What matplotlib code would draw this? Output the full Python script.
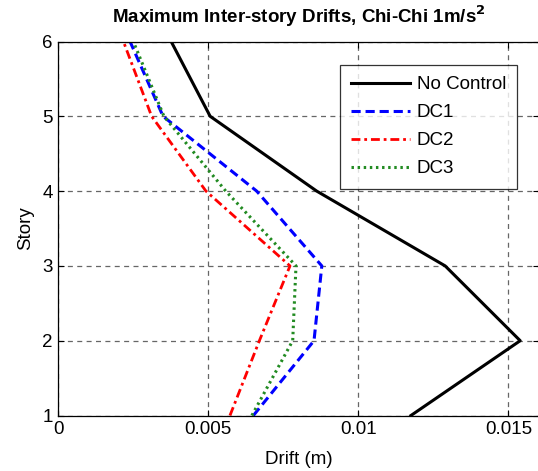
import matplotlib
matplotlib.use("Agg")
import matplotlib.pyplot as plt

stories = [1, 2, 3, 4, 5, 6]
no_control = [0.01175, 0.01539, 0.01289, 0.00861, 0.00506, 0.00376]
dc1 = [0.00650, 0.00852, 0.00878, 0.00661, 0.00349, 0.00239]
dc2 = [0.00572, 0.00670, 0.00772, 0.00492, 0.00311, 0.00217]
dc3 = [0.00645, 0.00781, 0.00792, 0.00558, 0.00352, 0.00250]
xticks = [0, 0.005, 0.01, 0.015]
xticklabels = ["0", "0.005", "0.01", "0.015"]

plt.rcParams['font.family'] = ['Liberation Sans', 'DejaVu Sans']
FS = 13.5

W, H = 538, 471
fig = plt.figure(figsize=(W / 100, H / 100), dpi=100)
left = 58.3 / W
bottom = 1 - 415.5 / H
top = 1 - 41.5 / H
right = 538.5 / W
ax = fig.add_axes([left, bottom, right - left, top - bottom])

ax.plot(no_control, stories, color='black', lw=2.2, label='No Control')
ax.plot(dc1, stories, color='#0000ff', lw=2.2, ls=(0, (3, 1.6)), label='DC1')
ax.plot(dc2, stories, color='#ff0000', lw=2.0, ls=(0, (3.2, 1.4, 1, 1.4)), label='DC2')
ax.plot(dc3, stories, color='#228b22', lw=2.2, ls=(0, (0.8, 1.2)), label='DC3')

ax.set_xlim(0, 0.016)
ax.set_ylim(1, 6)
ax.set_xticks(xticks)
ax.set_xticklabels(xticklabels)
ax.set_yticks(stories)
ax.tick_params(direction='in', top=True, right=True, labelsize=FS, length=4, width=0.8, pad=4)
ax.grid(True, color='#666666', ls=(0, (4, 3.5)), lw=0.9)
for s in ax.spines.values():
    s.set_linewidth(0.9)

ax.set_xlabel('Drift (m)', fontsize=FS, labelpad=9)
ax.set_ylabel('Story', fontsize=FS, labelpad=6)
ax.set_title('Maximum Inter-story Drifts, Chi-Chi 1m/s$^\\mathbf{2}$', fontsize=FS, fontweight='bold', pad=13)

leg = ax.legend(loc='upper right', bbox_to_anchor=((517 - 58.3) / 480, 1 - (65 - 41.5) / 374),
                borderaxespad=0,
                fontsize=FS, frameon=True, fancybox=False, edgecolor='black',
                handlelength=3.15, borderpad=0.6, labelspacing=0.58, handletextpad=0.35)
leg.get_frame().set_linewidth(0.9)

fig.savefig('out.png', dpi=100)
